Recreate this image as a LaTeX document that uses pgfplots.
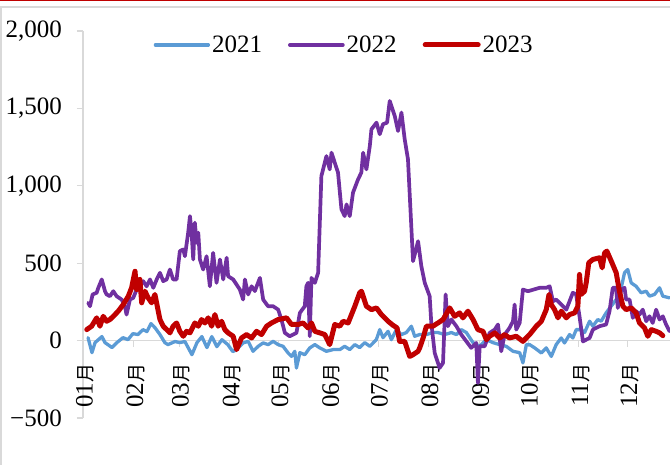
\documentclass[border=0pt]{standalone}
\usepackage{pgfplots}
\pgfplotsset{compat=1.18}
\usepackage{fontspec}
\setmainfont{Liberation Serif}
\newfontfamily\cjk{Noto Sans CJK SC}

\definecolor{c21}{HTML}{5B9BD5}
\definecolor{c22}{HTML}{7030A0}
\definecolor{c23}{HTML}{C00000}
\definecolor{axgray}{HTML}{D9D9D9}

\newcommand{\lblfont}{\fontsize{25bp}{28bp}\selectfont}
\newcommand{\yue}{{\fontsize{19bp}{20bp}\selectfont\cjk 月}}

\begin{document}
\begin{tikzpicture}
\path[use as bounding box] (0,0) rectangle (670bp,465bp);
% page frame
\fill[c23] (0,463.5bp) rectangle (670bp,465bp);
\fill[axgray] (0,456.5bp) rectangle (670bp,458.5bp);
\fill[axgray] (0,0) rectangle (1.5bp,458.5bp);

\begin{axis}[
    at={(83bp,47bp)}, anchor=south west,
    scale only axis, width=587bp, height=387bp,
    xmin=0, xmax=360, ymin=-500, ymax=2000,
    axis x line=middle, axis y line=left,
    hide obscured x ticks=false, hide obscured y ticks=false,
    axis line style={-, draw=axgray, line width=1.5bp},
    tick align=outside, major tick length=6bp,
    tick style={draw=axgray, line width=1.2bp},
    xtick={0,31,59,90,120,151,181,212,243,273,304,334},
    xticklabels={{01\yue},{02\yue},{03\yue},{04\yue},{05\yue},{06\yue},
                 {07\yue},{08\yue},{09\yue},{10\yue},{11\yue},{12\yue}},
    ytick={-500,0,500,1000,1500,2000},
    yticklabels={{−500},{0},{500},{1,000},{1,500},{2,000}},
    xticklabel style={font=\lblfont},
    x tick label style={rotate=90, anchor=east, inner sep=0pt, xshift=-17bp, yshift=-2bp},
    yticklabel style={inner sep=0pt, font=\lblfont},
    yticklabel shift=15bp,
    legend columns=-1,
    legend style={draw=none, fill=none, at={(rel axis cs:0.445,0.964)}, anchor=center,
        font=\lblfont, /tikz/every even column/.append style={column sep=24bp}},
    legend image code/.code={\draw[#1] (0bp,0bp) -- (53bp,0bp);},
    every axis plot/.append style={line join=round, line cap=round},
]
\addplot[c21, line width=3.3bp] coordinates {
(3.1,19)(5.5,-78)(7.4,-13)(11.6,26)(13.5,-13)(17.8,-45)(20.8,-13)(24.5,19)(27.6,6)(30.6,45)
(33.7,39)(36.8,71)(39.2,58)(41.7,110)(44.1,84)(47.2,39)(50.2,-13)(52.1,-26)(56.4,-6)(59.4,-13)
(62.5,-6)(66.8,-91)(69.9,-13)(72.9,26)(76.0,-45)(79.0,26)(82.1,-39)(85.2,6)(88.8,-26)(91.9,-71)
(94.2,-58)(98.2,-15)(101.3,-5)(104.3,-69)(107.4,-37)(110.5,-15)(113.5,-26)(116.6,-5)(119.7,-26)
(122.7,-37)(125.8,-80)(127.9,-102)(129.9,-69)(130.9,-177)(133.0,-78)(136.0,-91)(139.1,-47)
(142.2,-26)(145.2,-47)(149.3,-69)(153.4,-58)(157.5,-58)(160.5,-37)(163.6,-58)(166.7,-26)
(169.7,-45)(172.8,-13)(175.9,-37)(179.9,6)(182.0,71)(184.0,19)(187.1,60)(189.1,6)(192.2,71)
(195.3,39)(198.3,52)(201.4,93)(203.4,28)(206.5,39)(210.6,39)(214.6,52)(217.7,52)(221.8,39)
(225.9,52)(229.0,39)(232.0,71)(235.1,52)(239.2,-13)(243.3,-37)(247.4,6)(251.4,-13)(255.5,-26)
(259.6,-37)(263.7,-69)(267.8,-78)(269.8,-144)(271.9,-26)(273.9,-26)(277.0,-47)(281.1,-80)
(284.1,-47)(287.2,-102)(290.2,-26)(293.3,17)(295.3,-15)(298.4,39)(300.4,17)(302.5,71)(305.5,71)
(307.6,52)(310.7,125)(312.7,93)(315.7,136)(317.8,125)(320.8,179)(323.9,222)(327.0,265)(330.1,341)
(332.1,438)(334.1,459)(336.2,373)(339.2,351)(342.3,309)(345.4,319)(347.4,287)(350.5,298)
(353.6,341)(355.6,287)(359.7,276)
};
\addlegendentry{2021}
\addplot[c22, line width=3.7bp] coordinates {
(3.2,244)(4.3,222)(5.9,298)(8.4,309)(9.4,341)(11.5,395)(13.5,319)(14.5,298)(16.5,287)(18.6,319)
(20.6,287)(23.7,265)(25.7,222)(26.7,168)(28.8,265)(30.8,276)(32.9,330)(34.9,362)(36.9,384)
(39.0,351)(41.1,395)(43.1,341)(45.2,395)(47.2,438)(49.2,384)(51.3,395)(53.3,459)(55.3,395)
(57.4,395)(59.4,578)(61.5,589)(62.5,545)(64.5,697)(65.6,804)(66.6,697)(67.6,524)(68.6,762)
(69.7,632)(70.7,697)(71.7,524)(73.7,459)(75.8,545)(77.8,351)(79.8,567)(81.9,373)(84.0,524)
(86.0,395)(88.1,535)(89.0,416)(92.1,395)(96.2,330)(98.2,265)(99.3,395)(101.3,298)(103.4,351)
(105.4,320)(108.5,405)(110.5,265)(113.5,222)(116.6,222)(119.7,200)(121.7,136)(123.8,50)
(126.8,28)(130.9,50)(133.0,179)(136.0,222)(137.0,351)(138.0,373)(139.1,28)(140.1,405)(142.2,373)
(144.2,438)(146.2,1063)(149.3,1192)(151.3,1106)(152.4,1214)(156.4,1085)(158.5,848)(160.5,804)
(161.6,880)(163.6,804)(165.6,956)(168.7,1042)(170.7,1085)(171.8,1214)(173.8,1106)(175.9,1257)
(176.9,1365)(180.0,1408)(182.0,1333)(184.0,1398)(186.5,1408)(188.1,1548)(191.2,1451)(193.2,1354)
(195.3,1473)(197.3,1300)(199.3,1171)(202.4,513)(205.5,642)(207.5,481)(209.6,373)(212.6,287)
(213.6,114)(215.7,-80)(218.7,-177)(220.8,-144)(222.4,298)(223.8,93)(225.9,136)(229.0,93)
(232.0,39)(235.1,-5)(238.1,-47)(241.2,-15)(242.2,-274)(243.3,-37)(246.3,-37)(249.4,50)(252.5,71)
(254.5,104)(256.5,-69)(258.6,39)(261.6,82)(263.7,125)(264.7,233)(265.7,71)(267.8,114)(269.8,330)
(272.9,319)(280.0,341)(284.1,341)(286.2,351)(288.2,254)(290.2,265)(293.3,233)(296.4,200)
(300.4,309)(302.4,300)(304.5,157)(306.6,-5)(310.7,17)(312.7,71)(316.8,93)(320.8,104)(322.9,190)
(324.9,341)(326.9,341)(328.0,211)(330.1,330)(332.1,341)(333.1,265)(335.2,265)(337.2,147)
(339.2,190)(341.3,168)(343.3,200)(345.4,125)(347.4,157)(349.4,114)(351.5,200)(353.6,136)
(355.6,157)(357.6,104)(359.7,60)
};
\addlegendentry{2022}
\addplot[c23, line width=5bp] coordinates {
(2.3,71)(5.3,93)(8.4,147)(10.4,93)(12.4,157)(14.5,125)(16.5,136)(18.6,157)(21.6,190)(24.7,233)
(27.8,287)(29.8,341)(31.9,448)(32.9,330)(34.9,395)(36.0,244)(38.0,319)(40.0,276)(42.1,244)
(44.1,298)(47.2,136)(49.2,93)(51.3,71)(53.3,50)(55.3,93)(57.4,114)(59.4,60)(61.5,28)(63.5,60)
(65.6,50)(68.6,114)(70.7,93)(72.7,136)(74.8,114)(76.8,147)(78.9,93)(80.9,168)(82.9,93)(85.0,125)
(87.0,71)(89.0,50)(92.1,28)(94.2,-58)(97.2,17)(100.3,39)(103.4,17)(106.4,60)(109.5,39)(112.6,93)
(115.6,114)(119.7,136)(124.8,147)(127.9,104)(131.9,104)(135.0,114)(138.0,82)(140.1,114)
(142.2,60)(145.2,50)(148.3,39)(151.3,-26)(154.4,104)(157.5,93)(159.5,125)(162.6,114)(166.7,222)
(169.7,309)(170.8,319)(173.8,222)(176.9,200)(180.0,211)(183.0,168)(187.1,125)(190.0,100)
(192.6,82)(194.2,-5)(197.3,-5)(200.4,-102)(202.4,-91)(205.5,-69)(206.5,-47)(208.6,17)(210.6,93)
(214.6,93)(217.7,114)(220.8,136)(224.9,211)(227.9,157)(231.0,179)(233.0,147)(236.1,190)
(239.2,136)(242.2,71)(245.3,60)(247.4,6)(249.4,28)(252.5,50)(255.5,17)(258.6,39)(261.6,17)
(265.7,28)(269.8,-5)(273.9,39)(278.0,93)(281.1,125)(284.1,200)(285.8,298)(287.2,233)(289.2,200)
(291.3,147)(293.3,190)(296.4,147)(298.4,168)(301.5,179)(303.5,222)(304.5,427)(305.5,298)
(307.6,319)(308.6,373)(310.2,503)(312.7,524)(316.8,535)(318.4,470)(319.9,567)(321.3,578)
(324.0,513)(327.0,438)(329.0,319)(331.1,222)(333.1,200)(336.2,211)(339.2,179)(341.3,114)
(344.4,82)(346.4,28)(348.5,71)(351.5,60)(353.6,50)(355.6,32)
};
\addlegendentry{2023}
\end{axis}
\end{tikzpicture}
\end{document}
